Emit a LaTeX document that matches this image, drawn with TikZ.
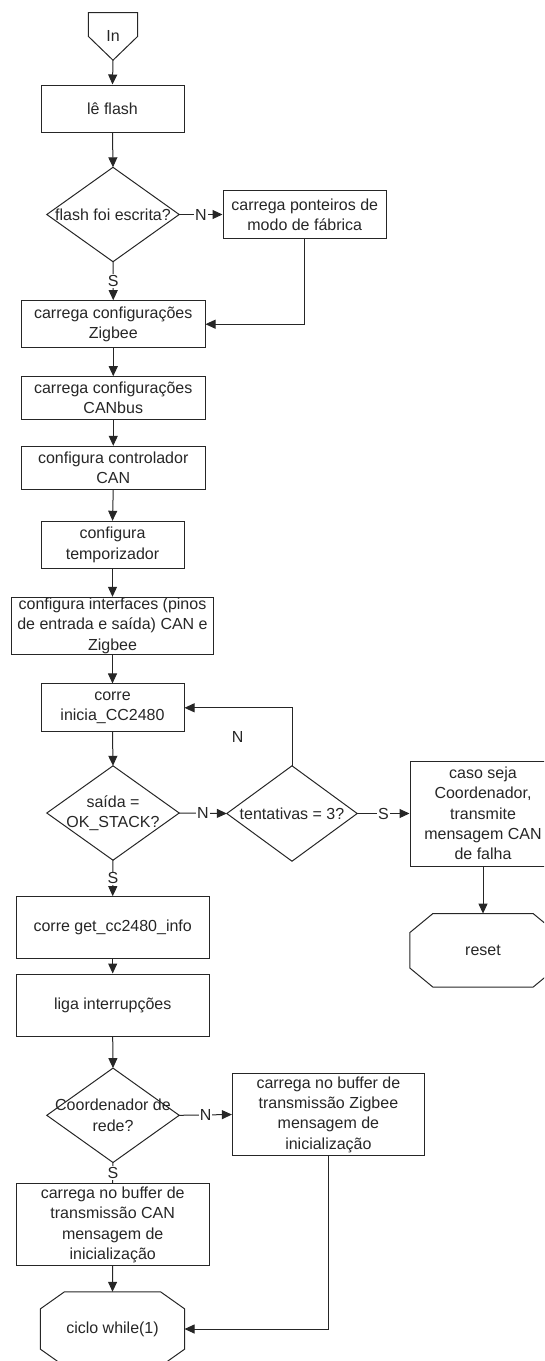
\documentclass[tikz,border=0pt]{standalone}
\usepackage{fontspec}
\setmainfont{Liberation Sans}
\usetikzlibrary{arrows.meta}
\definecolor{ink}{HTML}{262626}
\begin{document}
\begin{tikzpicture}[x=1pt,y=-1pt,
  font=\fontsize{16}{20.3}\selectfont, text=ink,
  line/.style={draw=ink, line width=1pt},
  arr/.style={line, -{Triangle[length=10pt,width=9pt]}},
  box/.style={draw=ink, line width=1pt, rectangle, inner sep=0pt, align=center},
  dia/.style={rectangle, inner sep=0pt, align=center, minimum width=132pt, minimum height=94pt},
  oct/.style={rectangle, inner sep=0pt, align=center},
  lbl/.style={fill=white, inner sep=1pt, text=ink}
]
\useasboundingbox (0,0) rectangle (544,1361);
\clip (0,0) rectangle (544,1361);

% entry point
\node[oct, minimum width=49pt, minimum height=47.3pt] (in) at (113,36.35) {In};
\draw[line] (in.north west) -- (in.north east) -- (in.east) -- (in.south) -- (in.west) -- cycle;

% main column
\node[box, minimum width=143pt, minimum height=47pt] (le) at (112.5,108.5) {lê flash};
\node[dia] (d1) at (113,214.5) {flash foi escrita?};
\node[box, minimum width=163.5pt, minimum height=48.5pt] (pont) at (304.75,214.5) {carrega ponteiros de\\modo de fábrica};
\node[box, minimum width=183.5pt, minimum height=47pt] (zig) at (113.25,324.2) {carrega configurações\\Zigbee};
\node[box, minimum width=183.5pt, minimum height=42.6pt] (canb) at (113.25,398) {carrega configurações\\CANbus};
\node[box, minimum width=183.5pt, minimum height=43pt] (ctrl) at (113.25,467.8) {configura controlador\\CAN};
\node[box, minimum width=143pt, minimum height=47pt] (temp) at (112.5,544.8) {configura\\temporizador};
\node[box, minimum width=202pt, minimum height=57pt] (intf) at (112.5,625.8) {configura interfaces (pinos\\de entrada e saída) CAN e\\Zigbee};
\node[box, minimum width=143pt, minimum height=47.7pt] (ini) at (112.5,707.8) {corre\\inicia\_CC2480};
\node[dia] (d2) at (113,813) {saída =\\OK\_STACK?};
\node[dia, minimum width=130pt, minimum height=95pt] (d3) at (292,813.5) {tentativas = 3?};
\node[box, minimum width=146pt, minimum height=105pt] (caso) at (483,813.5) {caso seja\\Coordenador,\\transmite\\mensagem CAN\\de falha};
\node[oct, minimum width=146pt, minimum height=73pt] (reset) at (483,950.3) {reset};
\node (nloop) at (237.7,737.3) {N};
\node[box, minimum width=193pt, minimum height=61.6pt] (get) at (112.7,927.5) {corre get\_cc2480\_info};
\node[box, minimum width=193pt, minimum height=62pt] (liga) at (112.7,1005) {liga interrupções};
\node[dia] (d4) at (113,1115.3) {Coordenador de\\rede?};
\node[box, minimum width=192pt, minimum height=81.6pt] (zmsg) at (328.4,1114.5) {carrega no buffer de\\transmissão Zigbee\\mensagem de\\inicialização};
\node[box, minimum width=193pt, minimum height=81.7pt] (cmsg) at (112.7,1224.8) {carrega no buffer de\\transmissão CAN\\mensagem de\\inicialização};
\node[oct, minimum width=143.7pt, minimum height=74pt] (ciclo) at (112.5,1329) {ciclo while(1)};

% decision outlines
\foreach \n in {d1,d2,d3,d4}
  \draw[line] (\n.north) -- (\n.east) -- (\n.south) -- (\n.west) -- cycle;

% terminator outlines
\foreach \n/\cx/\cy in {reset/23/19, ciclo/24/17}
  \draw[line] ([xshift=\cx pt]\n.north west) -- ([xshift=-\cx pt]\n.north east)
    -- ([yshift=-\cy pt]\n.north east) -- ([yshift=\cy pt]\n.south east)
    -- ([xshift=-\cx pt]\n.south east) -- ([xshift=\cx pt]\n.south west)
    -- ([yshift=\cy pt]\n.south west) -- ([yshift=-\cy pt]\n.north west) -- cycle;

% connectors
\draw[arr] (in.south) -- (le.north);
\draw[arr] (le.south) -- (d1.north);
\draw[arr] (d1.east) -- node[lbl]{N} (pont.west);
\draw[arr] (d1.south) -- node[lbl]{S} (zig.north);
\draw[arr] (pont.south) |- (zig.east);
\draw[arr] (zig.south) -- (canb.north);
\draw[arr] (canb.south) -- (ctrl.north);
\draw[arr] (ctrl.south) -- (temp.north);
\draw[arr] (temp.south) -- (intf.north);
\draw[arr] (intf.south) -- (ini.north);
\draw[arr] (ini.south) -- (d2.north);
\draw[arr] (d2.east) -- node[lbl]{N} (d3.west);
\draw[arr] (d3.north) |- (ini.east);
\draw[arr] (d3.east) -- node[lbl]{S} (caso.west);
\draw[arr] (caso.south) -- (reset.north);
\draw[arr] (d2.south) -- node[lbl]{S} (get.north);
\draw[arr] (get.south) -- (liga.north);
\draw[arr] (liga.south) -- (d4.north);
\draw[arr] (d4.east) -- node[lbl]{N} (zmsg.west);
\draw[line] (d4.south) -- node[lbl]{S} (cmsg.north);
\draw[arr] (cmsg.south) -- (ciclo.north);
\draw[arr] (zmsg.south) |- (ciclo.east);
\end{tikzpicture}
\end{document}
